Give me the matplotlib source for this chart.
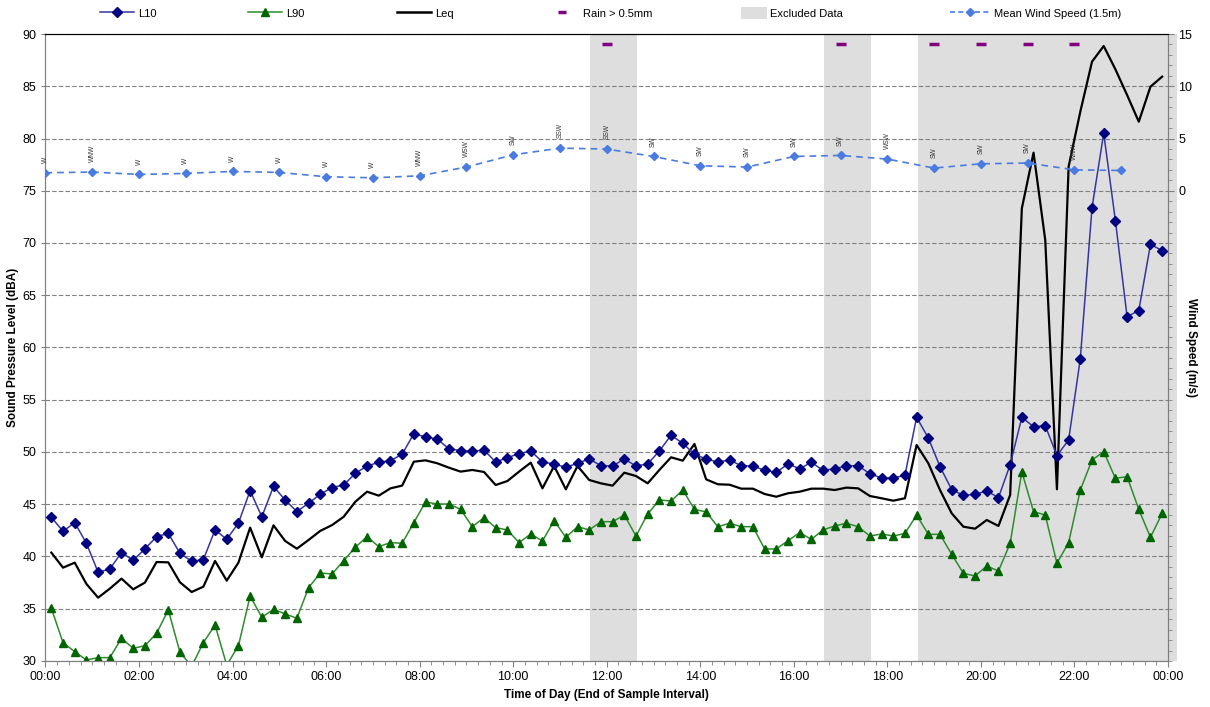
import numpy as np
import matplotlib
matplotlib.use("Agg")
import matplotlib.pyplot as plt
from matplotlib.ticker import MultipleLocator, FixedLocator
from matplotlib.lines import Line2D
from matplotlib.patches import Patch

plt.rcParams['font.family'] = ['Liberation Sans', 'DejaVu Sans']

# ---------------- data ----------------
L10 = [43.75, 42.41, 43.24, 41.26, 38.49, 38.80, 40.37, 39.63, 40.72, 41.90, 42.21, 40.30,
       39.54, 39.70, 42.54, 41.65, 43.20, 46.30, 43.80, 46.70, 45.40, 44.30, 45.10, 45.95,
       46.60, 46.84, 47.96, 48.66, 49.01, 49.17, 49.78, 51.75, 51.44, 51.24, 50.31, 50.13,
       50.06, 50.19, 49.04, 49.46, 49.84, 50.10, 49.04, 48.85, 48.53, 48.92, 49.33, 48.69,
       48.66, 49.33, 48.66, 48.85, 50.10, 51.60, 50.83, 49.78, 49.33, 49.04, 49.23, 48.69,
       48.66, 48.24, 48.05, 48.85, 48.40, 49.01, 48.24, 48.40, 48.66, 48.69, 47.92, 47.51,
       47.51, 47.77, 53.32, 51.34, 48.60, 46.40, 45.85, 45.95, 46.27, 45.63, 48.79, 53.32,
       52.42, 52.52, 49.65, 51.15, 58.93, 73.38, 80.50, 72.14, 62.95, 63.53, 69.87, 69.27]

L90 = [35.04, 31.75, 30.89, 30.10, 30.32, 30.32, 32.17, 31.21, 31.46, 32.65, 34.88, 30.83,
       29.50, 31.75, 33.44, 29.60, 31.46, 36.22, 34.18, 34.95, 34.50, 34.09, 37.01, 38.42,
       38.32, 39.60, 40.88, 41.90, 40.94, 41.33, 41.26, 43.24, 45.22, 45.02, 45.02, 44.51,
       42.85, 43.71, 42.76, 42.54, 41.33, 42.15, 41.48, 43.43, 41.83, 42.85, 42.54, 43.33,
       43.33, 43.97, 41.96, 44.07, 45.41, 45.31, 46.36, 44.51, 44.26, 42.85, 43.18, 42.85,
       42.85, 40.72, 40.72, 41.51, 42.28, 41.64, 42.54, 42.92, 43.18, 42.85, 41.96, 42.15,
       41.96, 42.20, 43.97, 42.12, 42.12, 40.20, 38.39, 38.13, 39.09, 38.61, 41.26, 48.10,
       44.29, 43.97, 39.35, 41.33, 46.36, 49.23, 50.03, 47.48, 47.64, 44.51, 41.83, 44.13]

Leq = [40.37, 38.93, 39.41, 37.37, 36.06, 36.92, 37.88, 36.86, 37.50, 39.47, 39.44, 37.53,
       36.60, 37.11, 39.57, 37.69, 39.41, 42.76, 39.92, 42.98, 41.48, 40.75, 41.58, 42.45,
       43.00, 43.80, 45.24, 46.20, 45.82, 46.52, 46.78, 49.07, 49.20, 48.92, 48.50, 48.12,
       48.28, 48.09, 46.84, 47.22, 48.12, 48.98, 46.52, 48.66, 46.43, 48.66, 47.32, 47.00,
       46.78, 48.02, 47.70, 47.00, 48.28, 49.49, 49.17, 50.77, 47.38, 46.91, 46.87, 46.49,
       46.49, 45.98, 45.72, 46.05, 46.20, 46.49, 46.49, 46.36, 46.59, 46.52, 45.79, 45.57,
       45.34, 45.57, 50.67, 48.92, 46.36, 44.13, 42.85, 42.66, 43.49, 42.92, 45.89, 73.32,
       78.64, 70.29, 46.43, 77.31, 82.57, 87.35, 88.85, 86.62, 84.16, 81.61, 84.96, 85.92]

wind_hours = list(range(24))
wind_speed = [1.72, 1.79, 1.56, 1.66, 1.85, 1.75, 1.34, 1.24, 1.43, 2.27, 3.44, 4.08,
              3.99, 3.28, 2.39, 2.27, 3.28, 3.38, 3.03, 2.17, 2.58, 2.65, 2.00, 1.94]
wind_dir = ["W", "WNW", "W", "W", "W", "W", "W", "W", "WNW", "WSW", "SW", "SSW",
            "SSW", "SW", "SW", "SW", "SW", "SW", "WSW", "SW", "SW", "SW", "WNW", ""]

rain_hours = [12, 17, 19, 20, 21, 22]
rain_level = [14, 14, 14, 14, 14, 14]

excluded_start = [11.65, 16.65, 18.65]
excluded_end = [12.65, 17.65, 24.2]

noise_times = np.arange(len(L10)) * 0.25 + 0.125
tick_labels = ["00:00", "02:00", "04:00", "06:00", "08:00", "10:00", "12:00",
               "14:00", "16:00", "18:00", "20:00", "22:00", "00:00"]

# ---------------- colours ----------------
c_l10_line = "#3535A0"
c_l10_mark = "#000080"
c_l90_line = "#2E8B2E"
c_l90_mark = "#006400"
c_wind = "#4A7BE0"
c_rain = "#800080"
c_excl = "#DEDEDE"

fig = plt.figure(figsize=(12.1, 7.07), dpi=100)
ax = fig.add_axes([0.0376, 0.0651, 0.9277, 0.8868])
ax2 = ax.twinx()

for s, e in zip(excluded_start, excluded_end):
    ax.axvspan(s, e, color=c_excl, zorder=0, lw=0, clip_on=False)

ax.set_xlim(0, 24)
ax.set_ylim(30, 90)
ax.yaxis.set_major_locator(MultipleLocator(5))
ax.grid(axis='y', which='major', linestyle=(0, (4, 2)), color="#808080", lw=0.8, zorder=1)

ax.plot(noise_times, Leq, color="black", lw=1.6, zorder=4)
ax.plot(noise_times, L90, color=c_l90_line, lw=1.1, marker='^', ms=6,
        mfc=c_l90_mark, mec=c_l90_mark, zorder=5)
ax.plot(noise_times, L10, color=c_l10_line, lw=1.1, marker='D', ms=4.8,
        mfc=c_l10_mark, mec=c_l10_mark, zorder=6)

ax.set_xticks(np.arange(0, 25, 2))
ax.set_xticklabels(tick_labels)
ax.xaxis.set_minor_locator(MultipleLocator(0.25))
ax.tick_params(axis='x', which='major', length=4, labelsize=9, color="#808080")
ax.tick_params(axis='x', which='minor', length=3, color="#808080")
ax.tick_params(axis='y', which='major', length=3, labelsize=9, color="#808080")

ax.set_xlabel("Time of Day (End of Sample Interval)", fontsize=8.5, fontweight='bold', labelpad=4)
ax.set_ylabel("Sound Pressure Level (dBA)", fontsize=8.5, fontweight='bold')
ax.yaxis.set_label_coords(-0.024, 0.5)

# right axis: wind
ax2.set_ylim(-45, 15)
ax2.yaxis.set_major_locator(FixedLocator([0, 5, 10, 15]))
ax2.yaxis.set_minor_locator(MultipleLocator(1))
ax2.tick_params(axis='y', which='major', length=4, labelsize=9, color="#808080")
ax2.tick_params(axis='y', which='minor', length=3, color="#808080")
ax2.plot(wind_hours, wind_speed, color=c_wind, lw=1.2, ls=(0, (4, 3)), marker='D', ms=4.5,
         mfc=c_wind, mec=c_wind, zorder=5)
ax2.plot(rain_hours, rain_level, ls='none', marker='_', ms=7, mew=2.5, color=c_rain, zorder=6)
for h, v, d in zip(wind_hours, wind_speed, wind_dir):
    if d:
        ax2.annotate(d, (h, v), xytext=(0, 7), textcoords='offset points', rotation=90,
                     ha='center', va='bottom', fontsize=4.8, color="#333333")
ax2.set_ylabel("Wind Speed (m/s)", fontsize=8.5, fontweight='bold', rotation=270)
ax2.yaxis.set_label_coords(1.026, 0.5)

for sp in ['left', 'bottom', 'right']:
    ax.spines[sp].set_color("#808080")
    ax2.spines[sp].set_color("#808080")
ax.spines['top'].set_color("black")
ax2.spines['top'].set_color("black")

# ---------------- legend (one entry each, positioned like the original) ----------------
handles = [
    Line2D([], [], color=c_l10_line, lw=1.1, marker='D', ms=4.8, mfc=c_l10_mark, mec=c_l10_mark),
    Line2D([], [], color=c_l90_line, lw=1.1, marker='^', ms=6, mfc=c_l90_mark, mec=c_l90_mark),
    Line2D([], [], color="black", lw=1.8),
    Line2D([], [], ls='none', marker='_', ms=6, mew=2.5, color=c_rain),
    Patch(facecolor=c_excl, edgecolor='none'),
    Line2D([], [], color=c_wind, lw=1.2, ls=(0, (3, 2)), marker='D', ms=4.5, mfc=c_wind, mec=c_wind),
]
labels = ["L10", "L90", "Leq", "Rain > 0.5mm", "Excluded Data", "Mean Wind Speed (1.5m)"]
starts_px = [100, 248, 397, 545, 741, 950]
hlens = [3.1, 3.1, 3.1, 3.1, 2.3, 3.6]
for h, l, x, hl in zip(handles, labels, starts_px, hlens):
    fig.legend([h], [l], loc='center left', bbox_to_anchor=(x / 1210, 1 - 13 / 707),
               frameon=False, fontsize=8, handlelength=hl, handletextpad=0.35,
               borderpad=0, borderaxespad=0, handleheight=1.2)

fig.savefig("out.png", dpi=100)
